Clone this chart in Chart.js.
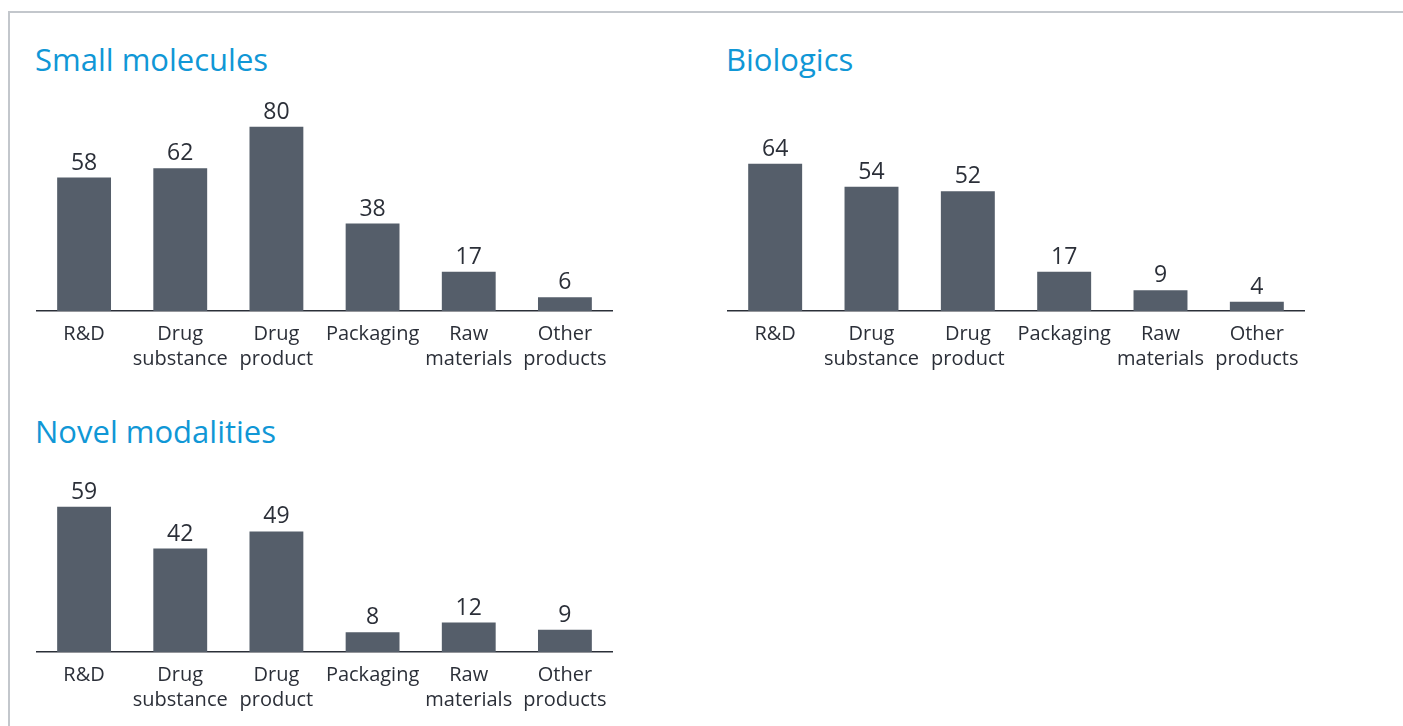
<!DOCTYPE html>
<html>
<head>
<meta charset="utf-8">
<script src="https://cdn.jsdelivr.net/npm/chart.js@4.4.1/dist/chart.umd.min.js"></script>
<style>
    body { margin: 0; background: #fff; width: 1403px; height: 726px; overflow: hidden; position: relative; font-family: "Open Sans", sans-serif; }
    .frame { position: absolute; left: 8px; top: 11px; right: 0; bottom: 0; border-top: 2px solid #c3c7cc; border-left: 2px solid #c3c7cc; }
    .title { position: absolute; font-size: 31px; line-height: 31px; color: #1097d6; white-space: nowrap; }
    .box { position: absolute; }
</style>
</head>
<body>
<div class="frame"></div>

<div class="title" style="left:35px; top:44px;">Small molecules</div>
<div class="title" style="left:726px; top:44px;">Biologics</div>
<div class="title" style="left:35px; top:416px;">Novel modalities</div>

<div class="box" style="left:36px; top:90px;"><canvas id="smallChart" width="577" height="291"></canvas></div>
<div class="box" style="left:727px; top:90px;"><canvas id="bioChart" width="578" height="291"></canvas></div>
<div class="box" style="left:36px; top:460px;"><canvas id="novelChart" width="577" height="262"></canvas></div>

<script>
// Categories shared by all three panels
const categories = [
    'R&D',
    ['Drug', 'substance'],
    ['Drug', 'product'],
    'Packaging',
    ['Raw', 'materials'],
    ['Other', 'products']
];

// Values per panel
const smallMolecules = [58, 62, 80, 38, 17, 6];
const biologics = [64, 54, 52, 17, 9, 4];
const novelModalities = [59, 42, 49, 8, 12, 9];

const barColor = '#555e6a';
const textColor = '#2b2f38';

// Draws the value above each bar
const valueLabels = {
    id: 'valueLabels',
    afterDatasetsDraw(chart) {
        const ctx = chart.ctx;
        const meta = chart.getDatasetMeta(0);
        const values = chart.data.datasets[0].data;
        ctx.save();
        ctx.font = '23px "Open Sans", sans-serif';
        ctx.fillStyle = textColor;
        ctx.textAlign = 'center';
        ctx.textBaseline = 'bottom';
        meta.data.forEach((bar, i) => {
            ctx.fillText(values[i], bar.x, bar.y - 3);
        });
        ctx.restore();
    }
};

function makeChart(id, values, maxValue) {
    return new Chart(document.getElementById(id), {
        type: 'bar',
        data: {
            labels: categories,
            datasets: [{
                data: values,
                backgroundColor: barColor,
                barPercentage: 0.56,
                categoryPercentage: 1
            }]
        },
        options: {
            responsive: false,
            animation: false,
            layout: { padding: 0 },
            plugins: {
                legend: { display: false },
                tooltip: { enabled: false }
            },
            scales: {
                x: {
                    grid: { display: false },
                    border: { display: true, color: '#2b2f38', width: 1.5 },
                    ticks: {
                        color: textColor,
                        font: { family: '"Open Sans", sans-serif', size: 20, lineHeight: 1.25 },
                        padding: 3,
                        maxRotation: 0,
                        minRotation: 0,
                        autoSkip: false
                    },
                    afterFit: scale => { scale.height = 70; }
                },
                y: {
                    display: false,
                    min: 0,
                    max: maxValue
                }
            }
        },
        plugins: [valueLabels]
    });
}

makeChart('smallChart', smallMolecules, 96);
makeChart('bioChart', biologics, 96);
makeChart('novelChart', novelModalities, 78);
</script>
</body>
</html>
